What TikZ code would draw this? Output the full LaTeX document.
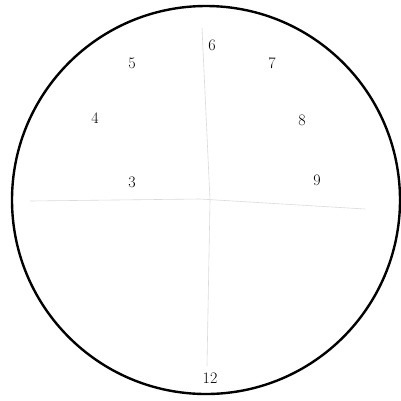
\documentclass[tikz,border=0pt]{standalone}
\begin{document}
\begin{tikzpicture}[x=1pt,y=-1pt,
  num/.style={font=\fontsize{16}{16}\selectfont, inner sep=0pt},
  pencil/.style={draw=black!14, line width=0.6pt}]
\useasboundingbox (0,0) rectangle (401,400);
\fill[white] (0,0) rectangle (401,400);
% faint pencil guide lines
\coordinate (hl) at (30,201);
\coordinate (hm) at (200,199);
\coordinate (hr) at (365,209);
\coordinate (vt) at (202,28);
\coordinate (vm) at (210,200);
\coordinate (vb) at (207,366);
\draw[pencil] (hl) -- (hm) -- (hr);
\draw[pencil] (vt) -- (vm) -- (vb);
% circle
\node[draw=black, line width=2.4pt, circle, minimum size=388pt, inner sep=0pt] (face) at (206,200) {};
% numbers
\node[num] (n6) at (212,45) {6};
\node[num] (n5) at (132,63) {5};
\node[num] (n7) at (272,63) {7};
\node[num] (n4) at (95,118) {4};
\node[num] (n8) at (302,120) {8};
\node[num] (n3) at (132,182) {3};
\node[num] (n9) at (317,180) {9};
\node[num] (n12) at (210,378) {12};
\end{tikzpicture}
\end{document}
